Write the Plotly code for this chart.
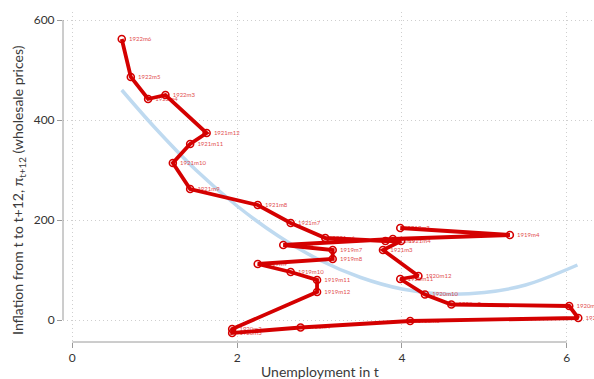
import plotly.graph_objects as go

# Monthly observations: unemployment (t) vs. inflation from t to t+12
months = ["1919m3", "1919m4", "1919m5", "1919m6", "1919m7", "1919m8", "1919m9",
          "1919m10", "1919m11", "1919m12", "1920m2", "1920m3", "1920m4", "1920m5",
          "1920m7", "1920m8", "1920m9", "1920m10", "1920m11", "1920m12", "1921m3",
          "1921m4", "1921m5", "1921m6", "1921m7", "1921m8", "1921m9", "1921m10",
          "1921m11", "1921m12", "1922m3", "1922m4", "1922m5", "1922m6"]
unemployment = [3.98, 5.31, 3.89, 2.56, 3.16, 3.16, 2.25,
                2.65, 2.97, 2.97, 1.94, 1.94, 2.77, 4.10,
                6.14, 6.03, 4.60, 4.28, 3.98, 4.20, 3.77,
                3.99, 3.80, 3.07, 2.65, 2.25, 1.43, 1.22,
                1.43, 1.63, 1.13, 0.92, 0.71, 0.60]
inflation = [184, 170, 162, 150, 140, 122, 112,
             96, 80, 56, -18, -26, -15, -2,
             4, 28, 31, 51, 82, 88, 140,
             158, 158, 164, 194, 230, 262, 314,
             352, 374, 450, 442, 486, 562]

# Quadratic fit curve
fit_x = [0.6, 1.0, 1.5, 2.0, 2.5, 3.0, 3.5, 4.0, 4.5, 5.0, 5.5, 6.13]
fit_y = [460, 385, 300, 228, 168, 120, 85, 62, 52, 55, 70, 110]

x_ticks = [0, 2, 4, 6]
y_ticks = [0, 200, 400, 600]

RED = "#d40000"
FONT = "Lato"

fig = go.Figure()

fig.add_trace(go.Scatter(
    x=fit_x, y=fit_y, mode="lines",
    line=dict(color="#bfdaf0", width=3.5, shape="spline"),
    hoverinfo="skip", showlegend=False))

# point labels sit underneath the connecting line
fig.add_trace(go.Scatter(
    x=unemployment, y=inflation, mode="markers+text", text=months,
    textposition="middle right",
    marker=dict(size=10, color="rgba(0,0,0,0)"),
    textfont=dict(family=FONT, size=6, color="#e25050"),
    showlegend=False))

fig.add_trace(go.Scatter(
    x=unemployment, y=inflation, mode="lines+markers",
    line=dict(color=RED, width=3.8),
    marker=dict(symbol="circle-open", size=7, color=RED, line=dict(width=1.6, color=RED)),
    showlegend=False))

AX_COLOR = "#9a9a9a"
GRID = dict(showgrid=True, gridcolor="#cfcfcf", griddash="1px,3px", gridwidth=1)
fig.update_xaxes(
    range=[-0.113, 6.331], tickvals=x_ticks, ticks="outside", ticklen=5,
    tickcolor=AX_COLOR, showline=False, zeroline=False, **GRID,
    tickfont=dict(family=FONT, size=12, color="#333333"))
fig.update_yaxes(
    range=[-44, 616], tickvals=y_ticks, ticks="outside", ticklen=5,
    tickcolor=AX_COLOR, showline=False, zeroline=False, **GRID,
    tickfont=dict(family=FONT, size=12, color="#333333"))

# axis lines spanning only the labelled scale range
fig.add_shape(type="line", xref="paper", yref="y", x0=0, x1=0, y0=0, y1=600,
              line=dict(color=AX_COLOR, width=1))
fig.add_shape(type="line", xref="x", yref="paper", x0=0, x1=6, y0=0, y1=0,
              line=dict(color=AX_COLOR, width=1))

fig.add_annotation(text="Unemployment in t", xref="x", yref="paper",
                   x=3, y=-0.088, showarrow=False, yanchor="middle",
                   font=dict(family=FONT, size=14, color="#3a3a3a"))
fig.add_annotation(text="Inflation from t to t+12, π<sub>t+12</sub> (wholesale prices)",
                   xref="paper", yref="paper", x=-0.084, y=0.462, textangle=-90,
                   showarrow=False, xanchor="center", yanchor="middle",
                   font=dict(family=FONT, size=14, color="#3a3a3a"))

fig.update_layout(
    width=594, height=379,
    margin=dict(l=63, r=0, t=12, b=37),
    paper_bgcolor="white", plot_bgcolor="white",
    showlegend=False)

fig.write_html("out.html")
